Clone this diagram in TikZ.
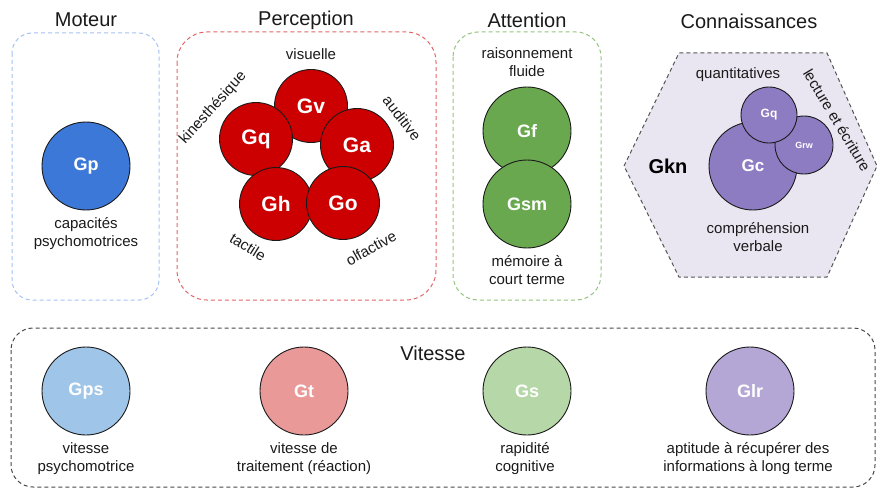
\documentclass[tikz,border=0pt]{standalone}
\usepackage{fontspec}
\setmainfont{Liberation Sans}
\usetikzlibrary{positioning}
\definecolor{ink}{HTML}{1A1A1A}
\definecolor{motline}{HTML}{A4C2F4}
\definecolor{perline}{HTML}{E06666}
\definecolor{attline}{HTML}{93C47D}
\definecolor{gkline}{HTML}{555555}
\definecolor{gkfill}{HTML}{E9E6F1}
\definecolor{gpblue}{HTML}{3C78D8}
\definecolor{perred}{HTML}{CC0000}
\definecolor{attgreen}{HTML}{6AA84F}
\definecolor{gkpurple}{HTML}{8E7CC3}
\definecolor{vblue}{HTML}{9FC5E8}
\definecolor{vred}{HTML}{EA9999}
\definecolor{vgreen}{HTML}{B6D7A8}
\definecolor{vpurple}{HTML}{B4A7D6}

\begin{document}
\begin{tikzpicture}[x=1pt, y=-1pt,
  title/.style={font=\fontsize{20}{24}\selectfont, text=ink, inner sep=0pt},
  lbl/.style={font=\fontsize{15}{18}\selectfont, text=ink, align=center, inner sep=0pt},
  ball/.style={circle, draw=ink, line width=0.9pt, inner sep=0pt, text=white},
  grpbox/.style={dashed, dash pattern=on 4pt off 3pt, line width=1pt, rounded corners=#1},
  grpbox/.default=25pt]
\useasboundingbox (0,0) rectangle (877,489);
% groupes
\draw[grpbox=20pt, draw=motline] (12,33) rectangle (159,300);
\draw[grpbox=30pt, draw=perline] (177,32) rectangle (436,300);
\draw[grpbox, draw=attline] (453,32) rectangle (601,300);
\draw[dashed, dash pattern=on 4pt off 3pt, line width=1pt, draw=gkline, fill=gkfill] (624,166) -- (679,53) -- (827,53) -- (877,166) -- (827,277) -- (679,277) -- cycle;
\draw[grpbox=22pt, draw=ink!80] (11,328) rectangle (875,487);

\node[title] (tmot) at (86,20) {Moteur};
\node[title] (tper) at (306,20) {Perception};
\node[title] (tatt) at (527,20) {Attention};
\node[title] (tcon) at (749,21) {Connaissances};
\node[title] (tvit) at (433,353) {Vitesse};

% moteur
\node[ball, fill=gpblue, minimum size=88pt, font=\bfseries\fontsize{18}{20}\selectfont] (gp) at (86,166) {Gp};
\node[lbl] (lgp) at (86,234) {capacités\\psychomotrices};

% perception
\node[ball, fill=perred, minimum size=73pt, font=\bfseries\fontsize{21}{24}\selectfont] (gv) at (311,106) {Gv};
\node[ball, fill=perred, minimum size=73pt, font=\bfseries\fontsize{21}{24}\selectfont] (gq) at (256,139) {Gq};
\node[ball, fill=perred, minimum size=73pt, font=\bfseries\fontsize{21}{24}\selectfont] (ga) at (357,145) {Ga};
\node[ball, fill=perred, minimum size=73pt, font=\bfseries\fontsize{21}{24}\selectfont] (gh) at (276,204) {Gh};
\node[ball, fill=perred, minimum size=73pt, font=\bfseries\fontsize{21}{24}\selectfont] (go) at (343,203) {Go};
\node[lbl] (lgv) at (311,54) {visuelle};
\node[lbl, rotate=48] (lgq) at (213,108) {kinesthésique};
\node[lbl, rotate=-52] (lga) at (402,118) {auditive};
\node[lbl, rotate=-32] (lgh) at (248,247) {tactile};
\node[lbl, rotate=29] (lgo) at (371,248) {olfactive};

% attention
\node[ball, fill=attgreen, minimum size=88pt, font=\bfseries\fontsize{18}{20}\selectfont] (gf) at (527,131) {Gf};
\node[ball, fill=attgreen, minimum size=88pt, font=\bfseries\fontsize{18}{20}\selectfont] (gsm) at (527,204) {Gsm};
\node[lbl] (lgf) at (527,62) {raisonnement\\fluide};
\node[lbl] (lgsm) at (527,270) {mémoire à\\court terme};

% connaissances
\node[font=\bfseries\fontsize{20}{24}\selectfont, text=black, inner sep=0pt] (gkn) at (668,166) {Gkn};
\node[ball, fill=gkpurple, minimum size=88pt, font=\bfseries\fontsize{17}{20}\selectfont] (gc) at (753,166) {Gc};
\node[ball, fill=gkpurple, minimum size=58pt, font=\bfseries\fontsize{9}{11}\selectfont] (grw) at (804,145) {Grw};
\node[ball, fill=gkpurple, minimum size=56pt, font=\bfseries\fontsize{12}{14}\selectfont] (gqk) at (769,115) {Gq};
\node[lbl] (lgqk) at (738,75) {quantitatives};
\node[lbl, rotate=-59] (lgrw) at (837,120) {lecture et écriture};
\node[lbl] (lgc) at (758,237) {compréhension\\verbale};

% vitesse
\node[ball, fill=vblue, minimum size=88pt, font=\bfseries\fontsize{18}{20}\selectfont] (gps) at (86,391) {Gps};
\node[ball, fill=vred, minimum size=88pt, font=\bfseries\fontsize{18}{20}\selectfont] (gt) at (304,391) {Gt};
\node[ball, fill=vgreen, minimum size=88pt, font=\bfseries\fontsize{18}{20}\selectfont] (gs) at (527,391) {Gs};
\node[ball, fill=vpurple, minimum size=88pt, font=\bfseries\fontsize{18}{20}\selectfont] (glr) at (750,391) {Glr};
\node[lbl] (lgps) at (86,459) {vitesse\\psychomotrice};
\node[lbl] (lgt) at (304,459) {vitesse de\\traitement (réaction)};
\node[lbl] (lgs) at (525,459) {rapidité\\cognitive};
\node[lbl] (lglr) at (748,459) {aptitude à récupérer des\\informations à long terme};
\end{tikzpicture}
\end{document}
